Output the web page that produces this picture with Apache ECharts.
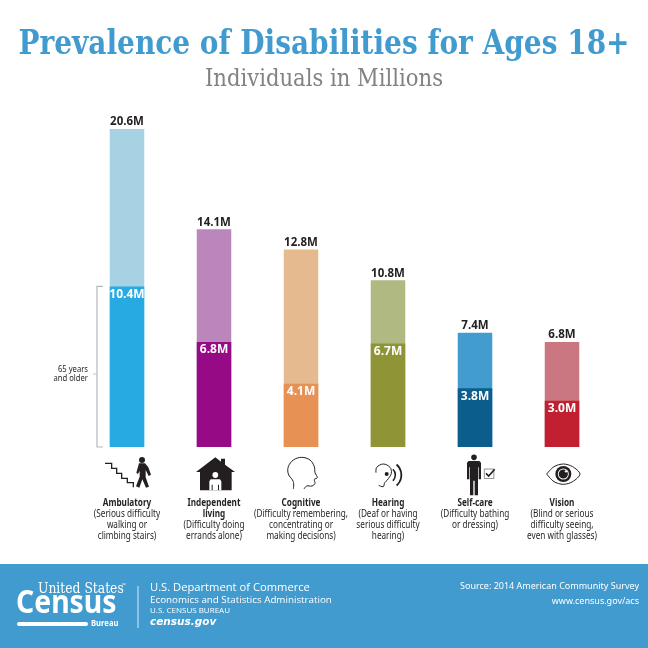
<!DOCTYPE html>
<html><head><meta charset="utf-8">
<style>html,body{margin:0;padding:0;background:#fff}#c{width:648px;height:648px}</style>
<script src="https://cdn.jsdelivr.net/npm/echarts@6/dist/echarts.min.js"></script>
</head><body><div id="c"></div>
<script>
const categories = ['Ambulatory','Independent\nliving','Cognitive','Hearing','Self-care','Vision'];
const notes = [
 '(Serious difficulty\nwalking or\nclimbing stairs)',
 '(Difficulty doing\nerrands alone)',
 '(Difficulty remembering,\nconcentrating or\nmaking decisions)',
 '(Deaf or having\nserious difficulty\nhearing)',
 '(Difficulty bathing\nor dressing)',
 '(Blind or serious\ndifficulty seeing,\neven with glasses)'];
const totalValues = [20.6,14.1,12.8,10.8,7.4,6.8];
const olderValues = [10.4,6.8,4.1,6.7,3.8,3.0];
const totalColors = ['#A6D2E3','#BB86BB','#E6BA8F','#B0B981','#429CCE','#CB7781'];
const olderColors = ['#27AAE2','#960A85','#E79155','#8F9537','#0B5E8C','#C02030'];

const noto = '"Noto Sans",sans-serif';
const sans = '"Open Sans","Noto Sans",sans-serif';
const slab = '"DejaVu Serif Condensed","DejaVu Serif",serif';
const INK = '#231f20';

const chart = echarts.init(document.getElementById('c'), null, {renderer:'canvas'});
chart.setOption({
  animation:false,
  backgroundColor:'#fff',
  grid:{left:83.5,right:42.5,top:129,bottom:201},
  xAxis:{type:'category',data:categories,axisLine:{show:false},axisTick:{show:false},axisLabel:{show:false}},
  yAxis:{type:'value',min:0,max:20.6,show:false,splitLine:{show:false}},
  series:[
    {type:'bar',barWidth:34.5,barGap:'-100%',z:2,
     data:totalValues.map((v,i)=>({value:v,itemStyle:{color:totalColors[i]}})),
     label:{show:true,position:'top',distance:1,formatter:p=>p.value.toFixed(1)+'M',
       fontFamily:sans,fontWeight:'bold',fontSize:11.5,color:INK}},
    {type:'bar',barWidth:34.5,barGap:'-100%',z:3,
     data:olderValues.map((v,i)=>({value:v,itemStyle:{color:olderColors[i]}})),
     label:{show:true,position:'insideTop',distance:2,formatter:p=>p.value.toFixed(1)+'M',
       fontFamily:sans,fontWeight:'bold',fontSize:12,color:'#fff'}}
  ]
});

function txt(x,y,t,font,color,align,sx){
  return {type:'text',x,y,scaleX:sx||1,silent:true,z:10,style:{text:t,font,fill:color,textAlign:align||'left',textVerticalAlign:'middle'}};
}
function mapper(ox,oy){return (p)=>p.map(q=>[q[0]/3+ox,q[1]/3+oy]);}
const A = mapper(80,450), B = mapper(350,450);
const poly=(pts,fill)=>({type:'polygon',silent:true,z:10,shape:{points:pts},style:{fill}});
const line=(pts,w,c,smooth)=>({type:'polyline',silent:true,z:10,shape:{points:pts,smooth:smooth||0},style:{stroke:c||INK,lineWidth:w,fill:'none'}});
const circ=(p,r,fill,stroke,w)=>({type:'circle',silent:true,z:10,shape:{cx:p[0],cy:p[1],r},style:{fill:fill||'none',stroke:stroke||null,lineWidth:w||0}});
const earC = B([[112,75]])[0];

const icons = [
  line(A([[75,40],[95,40],[95,55],[110,55],[110,70],[125,70],[125,85],[142,85],[142,98],[160,98],[160,112]]),1.3),
  circ(A([[186,30]])[0],3,INK),
  poly(A([[177,40],[195,40],[205,52],[213,74],[206,78],[197,60],[197,82],[207,110],[198,113],[187,88],[178,113],[168,109],[179,80],[179,62],[174,72],[169,68]]),INK),
  poly(A([[348,66],[406,22],[423,35],[423,26],[435,26],[435,44],[465,66],[455,66],[455,121],[360,121],[360,66]]),INK),
  circ(A([[406,75]])[0],2.9,'#fff'),
  poly(A([[392,88],[420,88],[424,94],[424,121],[417,121],[417,104],[414,104],[414,121],[398,121],[398,104],[395,104],[395,121],[388,121],[388,94]]),'#fff'),
  line(A([[640,117],[640,95],[625,72],[625,50],[640,30],[665,22],[690,30],[703,50],[705,68],[712,83],[703,88],[705,100],[696,108],[680,108],[672,117]]),1,INK,0.35),
  line(B([[78,68],[80,52],[100,42],[120,52],[124,70],[112,90],[104,98],[100,110],[86,106]]),1,INK,0.35),
  circ(B([[110,72]])[0],2,INK),
  {type:'arc',silent:true,z:10,shape:{cx:earC[0],cy:earC[1],r:8,startAngle:-0.8,endAngle:0.8},style:{stroke:INK,lineWidth:1.6,fill:'none'}},
  {type:'arc',silent:true,z:10,shape:{cx:earC[0],cy:earC[1],r:14,startAngle:-0.85,endAngle:0.85},style:{stroke:INK,lineWidth:1.8,fill:'none'}},
  circ(B([[372,22]])[0],2.8,INK),
  poly(B([[356,33],[388,33],[393,38],[393,88],[386,88],[386,52],[384,52],[384,136],[374,136],[374,92],[370,92],[370,136],[360,136],[360,52],[358,52],[358,88],[351,88],[351,38]]),INK),
  {type:'rect',silent:true,z:10,shape:{x:B([[403,57]])[0][0],y:B([[403,57]])[0][1],width:9.5,height:9.5},style:{fill:'#fff',stroke:'#777',lineWidth:0.8}},
  line(B([[408,70],[416,78],[434,58]]),1.6),
  line(B([[590,72],[612,50],[640,42],[668,50],[690,72],[668,95],[640,103],[612,95],[590,72]]),1,INK,0.3),
  circ(B([[640,72]])[0],8,INK),
  circ(B([[640,72]])[0],5.5,'#fff'),
  circ(B([[640,72]])[0],4.6,INK),
  circ(B([[648,64]])[0],1.2,'#fff')
];

const toPx = v => chart.convertToPixel({xAxisIndex:0,yAxisIndex:0},v);
const p0 = toPx([0,0]), pOld = toPx([0,olderValues[0]]);
const bx = 97, tickY = 374;
const bracket = [
  line([[bx+6,pOld[1]],[bx,pOld[1]],[bx,p0[1]],[bx+6,p0[1]]],1.2,'#b5b7b9'),
  line([[bx-4,tickY],[bx,tickY]],0.8,'#b5b7b9'),
  txt(88,369,'65 years','9px '+noto,INK,'right',0.85),
  txt(88,378,'and older','9px '+noto,INK,'right',0.85)
];

const catLabels = [];
categories.forEach((c,i)=>{
  const x = toPx([i,0])[0];
  let y = 503;
  c.split('\n').forEach(s=>{catLabels.push(txt(x,y,s,'bold 10px '+noto,INK,'center',0.82)); y+=11;});
  notes[i].split('\n').forEach(s=>{catLabels.push(txt(x,y,s,'10px '+noto,INK,'center',0.82)); y+=11;});
});

const footer = [
  {type:'rect',silent:true,z:5,shape:{x:0,y:564,width:648,height:84},style:{fill:'#419BCF'}},
  txt(38,589,'United States','14px '+slab,'#fff','left',0.98),
  txt(122,586,'™','5px '+sans,'#fff'),
  txt(16,604,'Census','bold 33px '+noto,'#fff','left',0.86),
  {type:'rect',silent:true,z:10,shape:{x:17,y:622,width:71,height:4,r:2},style:{fill:'#fff'}},
  txt(91,624,'Bureau','bold 8.5px '+noto,'#fff','left',0.9),
  {type:'line',silent:true,z:10,shape:{x1:138,y1:586,x2:138,y2:628},style:{stroke:'#fff',lineWidth:0.8}},
  txt(150,588,'U.S. Department of Commerce','11.2px '+sans,'#fff'),
  txt(150,600,'Economics and Statistics Administration','9.8px '+sans,'#fff'),
  txt(150,611,'U.S. CENSUS BUREAU','8px '+sans,'#fff'),
  txt(150,622,'census.gov','italic bold 10.5px "DejaVu Sans",sans-serif','#fff'),
  txt(639,586,'Source: 2014 American Community Survey','9px '+noto,'#fff','right'),
  txt(639,601,'www.census.gov/acs','9px '+noto,'#fff','right')
];
const heads = [
  txt(324,45,'Prevalence of Disabilities for Ages 18+','bold 34px '+slab,'#419BCF','center',0.915),
  txt(324,80,'Individuals in Millions','23.5px '+slab,'#808285','center')
];
chart.setOption({graphic:{elements:[...heads,...bracket,...icons,...catLabels,...footer]}});
</script></body></html>
